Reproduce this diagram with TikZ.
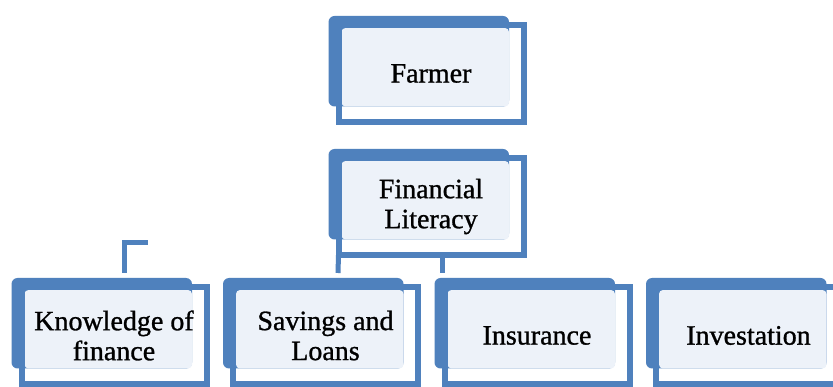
\documentclass[tikz,border=0pt]{standalone}
\usepackage{fontspec}
\setmainfont[FakeBold=1]{Liberation Serif}
\usepackage{tikz}
\usetikzlibrary{positioning,backgrounds}

\definecolor{boxblue}{RGB}{79,129,189}
\definecolor{boxfill}{RGB}{237,242,249}

\begin{document}
\begin{tikzpicture}
            [x=1pt,y=-1pt,every node/.style={draw=boxblue, line width=6pt, outer sep=0pt, inner sep=0pt, minimum width=185pt, minimum height=97pt, align=center, font=\fontsize{28}{30}\selectfont},
             link/.style={draw=boxblue, line width=5pt}]
          \useasboundingbox (0,0) rectangle (833,387);

          \node (farmer) at (431,73.5) {Farmer};
          \node (lit) at (431,206.5) {Financial\\Literacy};
          \node (know) at (114,335.5) {Knowledge of\\finance};
          \node (save) at (325.5,335.5) {Savings and\\Loans};
          \node (ins) at (537,335.5) {Insurance};
          \node (inv) at (748.5,335.5) {Investation};

          \coordinate (k1) at (124.5,273);
          \coordinate (k2) at (124.5,242.5);
          \coordinate (k3) at (148.3,242.5);
          \coordinate (s1) at (338,273);
          \coordinate (s2) at (442,273);

          \begin{scope}[on background layer]
            \fill[white] (0,0) rectangle (833,387);
            \foreach \n in {farmer, lit, know, save, ins, inv} {
              \fill[boxblue, rounded corners=6pt] ([shift={(-10,-9)}]\n.north west) rectangle ([shift={(-14.5,-15.5)}]\n.south east);
              \fill[boxfill, rounded corners=4pt] ([shift={(3,3)}]\n.north west) rectangle ([shift={(-14.5,-15.5)}]\n.south east);
            }
          \end{scope}

          \draw[link] (k1) -- (k2) -- (k3);
          \foreach \from/\to in {lit.south west/s1, lit.south -| s2/s2}
            \draw[link] (\from) -- (\to);
        \end{tikzpicture}
\end{document}
